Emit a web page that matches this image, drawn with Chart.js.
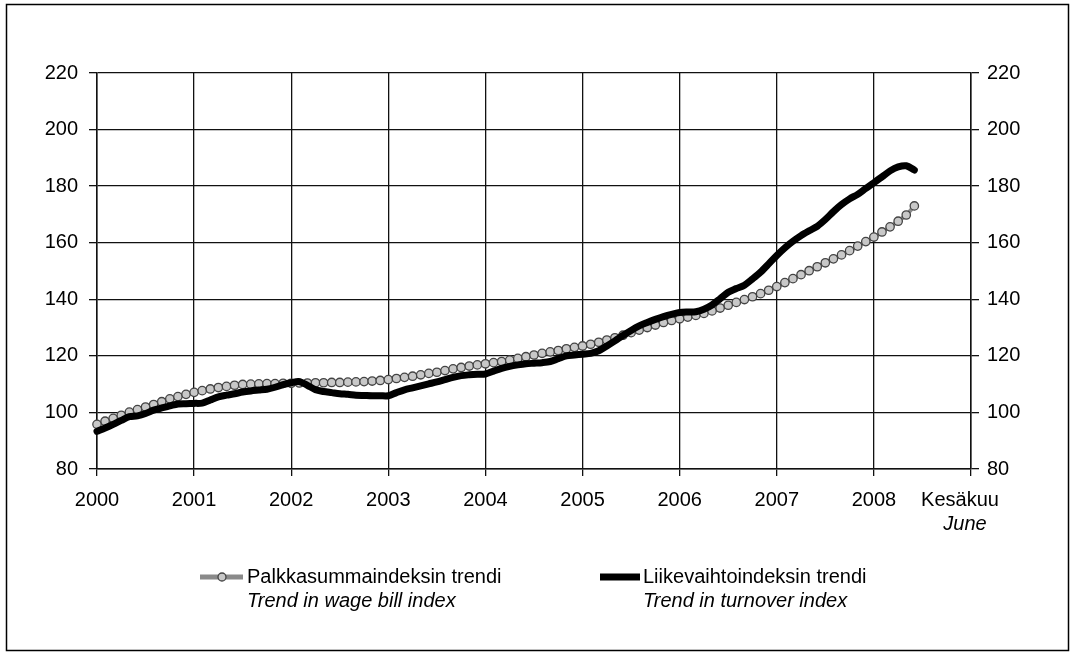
<!DOCTYPE html>
<html>
<head>
<meta charset="utf-8">
<title>Palkkasumma- ja liikevaihtoindeksin trendit</title>
<script src="https://cdn.jsdelivr.net/npm/chart.js"></script>
<style>
  body { margin: 0; background: #fff; }
  canvas { display: block; }
</style>
</head>
<body>
<canvas id="myChart" width="1075" height="655"></canvas>
<script>
// x = month since Jan 2000 (array index), last point = June 2008
const yearLabels = ['2000', '2001', '2002', '2003', '2004', '2005', '2006', '2007', '2008'];
const endLabel = 'Kesäkuu';
const endLabelEn = 'June';

const wageIndex = [
  95.8, 96.9, 97.9, 99.0, 100.1, 101.0, 101.9, 102.8, 103.8, 104.8, 105.6, 106.4,
  107.1, 107.7, 108.3, 108.8, 109.2, 109.6, 109.9, 110.0, 110.1, 110.2, 110.2, 110.3,
  110.3, 110.4, 110.4, 110.5, 110.5, 110.6, 110.6, 110.7, 110.8, 110.9, 111.1, 111.3,
  111.6, 112.0, 112.4, 112.8, 113.3, 113.8, 114.2, 114.8, 115.4, 115.9, 116.4, 116.8,
  117.2, 117.6, 118.0, 118.5, 119.1, 119.7, 120.3, 120.9, 121.4, 121.9, 122.5, 123.0,
  123.5, 124.1, 124.8, 125.6, 126.4, 127.3, 128.2, 129.1, 130.0, 130.9, 131.8, 132.5,
  133.1, 133.7, 134.3, 135.0, 135.9, 136.9, 137.9, 138.9, 139.9, 140.9, 142.0, 143.2,
  144.5, 145.9, 147.3, 148.7, 150.1, 151.5, 152.9, 154.3, 155.7, 157.2, 158.8, 160.4,
  162.0, 163.8, 165.6, 167.6, 169.8, 173.0
];

const turnoverIndex = [
  93.3, 94.5, 95.8, 97.2, 98.5, 98.8, 99.6, 100.8, 101.6, 102.3, 103.0, 103.1,
  103.2, 103.3, 104.4, 105.5, 106.1, 106.6, 107.2, 107.6, 107.9, 108.2, 108.9, 109.8,
  110.5, 110.9, 109.6, 108.0, 107.4, 107.0, 106.6, 106.4, 106.1, 106.0, 105.9, 105.9,
  105.9, 107.0, 108.0, 108.7, 109.4, 110.1, 110.8, 111.6, 112.4, 113.0, 113.3, 113.5,
  113.6, 114.6, 115.6, 116.3, 116.8, 117.2, 117.4, 117.6, 118.0, 119.0, 120.0, 120.3,
  120.6, 120.9, 121.8, 123.5, 125.3, 127.2, 129.0, 130.6, 131.8, 132.9, 133.9, 134.7,
  135.3, 135.5, 135.6, 136.5, 138.0, 140.2, 142.5, 143.8, 145.0, 147.2, 149.6, 152.5,
  155.5, 158.2, 160.5, 162.5, 164.2, 165.8, 168.2, 171.0, 173.5, 175.5, 177.1, 179.2,
  181.2, 183.3, 185.4, 186.8, 187.2, 185.7
];

const FONT = "'Liberation Sans', Arial, Helvetica, sans-serif";
Chart.defaults.font.family = FONT;
Chart.defaults.font.size = 20;
Chart.defaults.color = '#000';

const ctx = document.getElementById('myChart').getContext('2d');

// frame, custom legend and the "Kesäkuu / June" note
const extras = {
  id: 'extras',
  beforeDraw(chart) {
    const c = chart.ctx;
    c.save();
    c.fillStyle = '#fff';
    c.fillRect(0, 0, chart.width, chart.height);
    c.strokeStyle = '#000';
    c.lineWidth = 1.5;
    c.strokeRect(6.5, 4.5, 1062, 646);
    c.restore();
  },
  afterDraw(chart) {
    const c = chart.ctx;
    const xs = chart.scales.x;
    c.save();
    c.fillStyle = '#000';
    c.textBaseline = 'middle';
    c.textAlign = 'center';
    const ex = xs.getPixelForValue(108);
    c.font = '20px ' + FONT;
    c.fillText(endLabel, ex - 11, 500);
    c.font = 'italic 20px ' + FONT;
    c.fillText(endLabelEn, ex - 6, 524);

    // legend: wage bill
    c.strokeStyle = '#8a8a8a';
    c.lineWidth = 5;
    c.beginPath(); c.moveTo(200, 577); c.lineTo(243, 577); c.stroke();
    c.fillStyle = '#c8c8c8';
    c.strokeStyle = '#444';
    c.lineWidth = 1.3;
    c.beginPath(); c.arc(222, 577, 4, 0, Math.PI * 2); c.fill(); c.stroke();

    // legend: turnover
    c.strokeStyle = '#000';
    c.lineWidth = 7;
    c.beginPath(); c.moveTo(600, 577); c.lineTo(640, 577); c.stroke();

    c.fillStyle = '#000';
    c.textAlign = 'left';
    c.font = '20px ' + FONT;
    c.fillText('Palkkasummaindeksin trendi', 247, 577);
    c.fillText('Liikevaihtoindeksin trendi', 643, 577);
    c.font = 'italic 20px ' + FONT;
    c.fillText('Trend in wage bill index', 247, 601);
    c.fillText('Trend in turnover index', 643, 601);
    c.restore();
  }
};

const gridStyle = { color: '#111', lineWidth: 1.3, tickLength: 8, tickColor: '#111' };

const myChart = new Chart(ctx, {
  type: 'line',
  data: {
    datasets: [
      {
        label: 'Liikevaihtoindeksin trendi',
        data: turnoverIndex.map((v, i) => ({ x: i, y: v })),
        borderColor: '#000',
        borderWidth: 7,
        pointRadius: 0,
        tension: 0.3,
        borderCapStyle: 'round',
        clip: 10
      },
      {
        label: 'Palkkasummaindeksin trendi',
        data: wageIndex.map((v, i) => ({ x: i, y: v })),
        borderColor: '#8a8a8a',
        borderWidth: 4,
        pointRadius: 4.2,
        pointBackgroundColor: '#c8c8c8',
        pointBorderColor: '#444',
        pointBorderWidth: 1.3,
        tension: 0.2,
        clip: 10
      }
    ]
  },
  options: {
    responsive: false,
    animation: false,
    layout: { padding: { top: 73, left: 0, right: 0, bottom: 0 } },
    plugins: {
      legend: { display: false },
      tooltip: { enabled: false }
    },
    scales: {
      x: {
        type: 'linear',
        min: 0,
        max: 108,
        afterFit: s => { s.height = 186; },
        ticks: {
          stepSize: 12,
          padding: 12,
          maxRotation: 0,
          callback: v => (v >= 108 ? '' : yearLabels[v / 12])
        },
        grid: Object.assign({}, gridStyle, { tickLength: 7 }),
        border: { color: '#111', width: 1.5 }
      },
      y: {
        position: 'left',
        min: 80,
        max: 220,
        afterFit: s => { s.width = 97; },
        ticks: { stepSize: 20, padding: 11 },
        grid: gridStyle,
        border: { color: '#111', width: 1.5 }
      },
      y2: {
        position: 'right',
        min: 80,
        max: 220,
        afterFit: s => { s.width = 104; },
        ticks: { stepSize: 20, padding: 8 },
        grid: Object.assign({}, gridStyle, { drawOnChartArea: false }),
        border: { color: '#111', width: 1.5 }
      }
    }
  },
  plugins: [extras]
});
</script>
</body>
</html>
